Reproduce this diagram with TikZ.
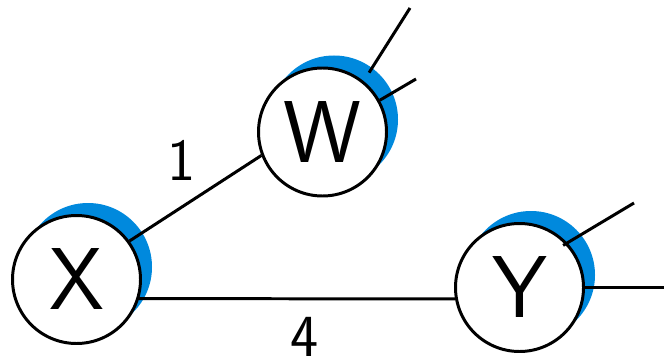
\documentclass[tikz,border=0pt]{standalone}
\usetikzlibrary{shadows}

\definecolor{shadowblue}{RGB}{0,137,221}

\tikzset{
  router/.style={circle,draw,line width=1.7pt,fill=white,
    minimum size=2.56cm,inner sep=0pt,
    font=\sffamily\fontsize{50}{50}\selectfont,
    drop shadow={shadow xshift=0.23cm,shadow yshift=0.25cm,
      fill=shadowblue,opacity=1}},
  cost/.style={inner sep=0pt,font=\sffamily\fontsize{34}{34}\selectfont},
  link/.style={line width=1.7pt}
}

\begin{document}
\begin{tikzpicture}

\useasboundingbox (0,0) rectangle (13.28,7.24);

\node[router] (X) at (1.53,1.65) {X};
\node[router] (W) at (6.45,4.60) {W};
\node[router] (Y) at (10.39,1.49) {Y};

\node[cost] (c1) at (3.64,4.04) {1};
\node[cost] (c4) at (6.10,0.50) {4};

% links that leave the picture
\coordinate (wout1) at (8.20,7.08);
\coordinate (wout2) at (8.32,5.66);
\coordinate (yout1) at (12.68,3.18);
\coordinate (yout2) at (13.28,1.49);

\draw[link] (X.36) -- (W.201);
\draw[link] (X.-17) -- (Y.190);

\draw[link,shorten <=0.2cm] (W.51) -- (wout1);
\draw[link] (W.29) -- (wout2);
\draw[link,shorten <=-0.1cm] (Y.43) -- (yout1);
\draw[link] (Y.east) -- (yout2);

\end{tikzpicture}
\end{document}
